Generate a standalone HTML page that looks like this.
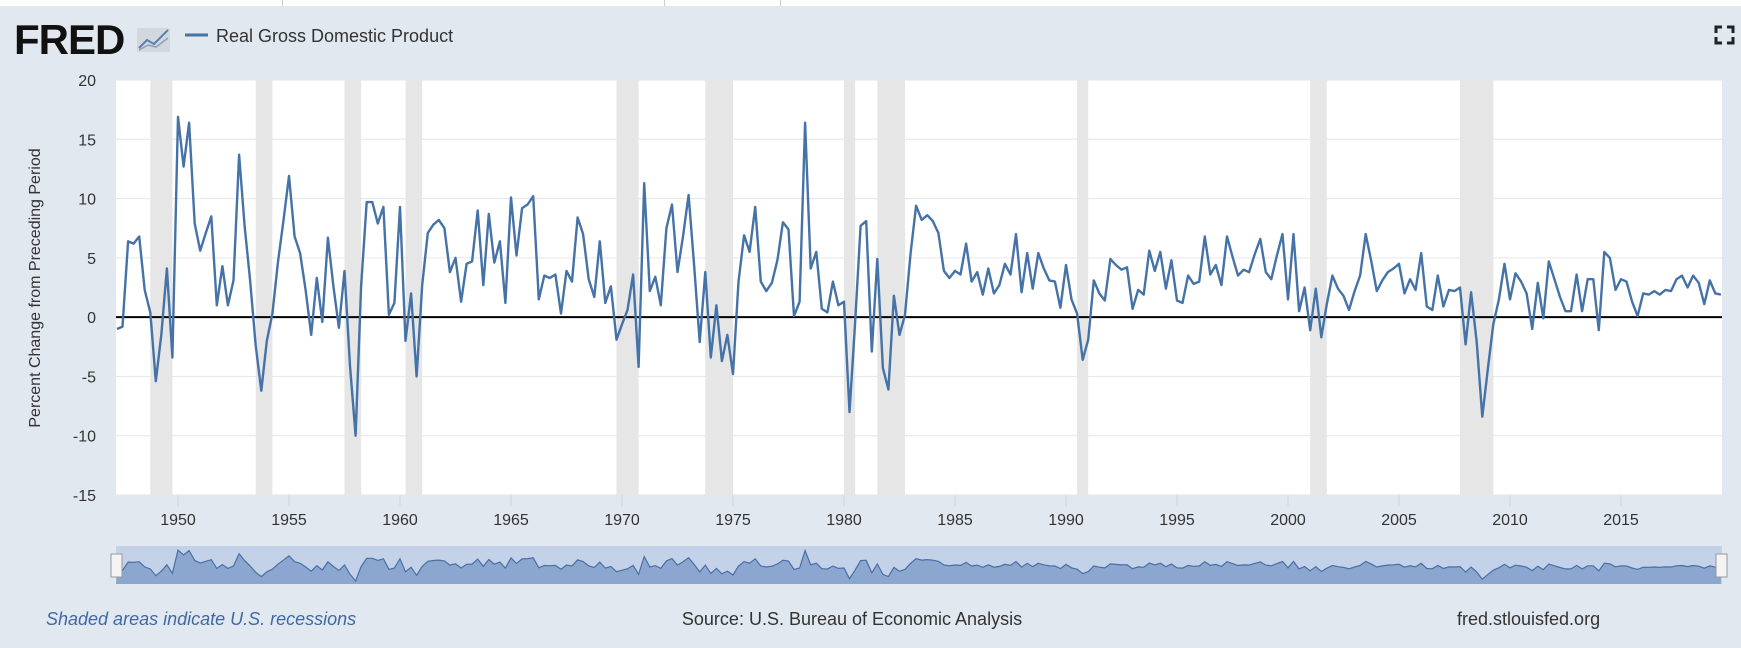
<!DOCTYPE html>
<html><head><meta charset="utf-8">
<style>
html,body{margin:0;padding:0;background:#e1e8f0;}
body{width:1741px;height:648px;overflow:hidden;position:relative;font-family:"Liberation Sans",sans-serif;}
</style></head>
<body>
<div style="position:absolute;left:0;top:0;width:1741px;height:6px;background:#fff;"></div>
<div style="position:absolute;left:282px;top:0;width:1px;height:6px;background:#ccc;"></div>
<div style="position:absolute;left:664px;top:0;width:1px;height:6px;background:#ccc;"></div>
<div style="position:absolute;left:780px;top:0;width:1px;height:6px;background:#ccc;"></div>
<svg id="chart" width="1741" height="648" style="position:absolute;left:0;top:0">
  <text x="14" y="54" font-size="42" font-weight="bold" fill="#111" font-family="Liberation Sans, sans-serif" letter-spacing="-1">FRED</text>
  <g>
    <rect x="137" y="28" width="33" height="24" fill="#d3d8de"/>
    <polyline points="139,48 147,40 154,44 168,30" fill="none" stroke="#5b7fae" stroke-width="2"/>
    <polyline points="139,50 148,45 156,47 168,38" fill="none" stroke="#8aa0bc" stroke-width="1.5"/>
  </g>
  <line x1="185" y1="35" x2="208" y2="35" stroke="#4572a7" stroke-width="3"/>
  <text x="216" y="42" font-size="18" fill="#333">Real Gross Domestic Product</text>
  <g fill="none" stroke="#222" stroke-width="3">
    <path d="M1716,33 V27 H1722"/><path d="M1727,27 H1733 V33"/>
    <path d="M1716,37 V43 H1722"/><path d="M1727,43 H1733 V37"/>
  </g>
  <rect x="116" y="80" width="1606" height="415" fill="#fff"/>
  <g id="rec"></g><g id="grid"></g><g id="yl"></g><g id="xl"></g>
  <line id="zero"/>
  <path id="series" fill="none" stroke="#4572a7" stroke-width="2.4" stroke-linejoin="round"/>
  <text transform="translate(40,288) rotate(-90)" text-anchor="middle" font-size="16" fill="#333">Percent Change from Preceding Period</text>
  <g>
    <rect x="116" y="546" width="1606" height="38" fill="#c3d2e8"/>
    <path id="navArea" fill="#8ba6cf" stroke="none"/>
    <path id="navLine" fill="none" stroke="#4a6fa5" stroke-width="1.2"/>
  </g>
  <rect x="111" y="554" width="11" height="23" fill="#f4f4f4" stroke="#999"/>
  <rect x="1716" y="554" width="11" height="23" fill="#f4f4f4" stroke="#999"/>
  <text x="46" y="625" font-size="18" font-style="italic" fill="#3e68a6">Shaded areas indicate U.S. recessions</text>
  <text x="852" y="625" font-size="18" fill="#333" text-anchor="middle">Source: U.S. Bureau of Economic Analysis</text>
  <text x="1457" y="625" font-size="18" fill="#333">fred.stlouisfed.org</text>
</svg>
<script>
const startYear = 1947.25;
const gdpValues = [
-1.0,-0.8,6.4,
6.2,6.8,2.3,0.4,
-5.4,-1.5,4.1,-3.4,
16.9,12.7,16.4,7.9,
5.6,7.1,8.5,1.0,
4.3,1.0,3.1,13.7,
7.7,3.1,-2.4,-6.2,
-2.0,0.3,4.6,8.1,
11.9,6.8,5.4,2.3,
-1.5,3.3,-0.4,6.7,
2.6,-0.9,3.9,-4.1,
-10.0,2.6,9.7,9.7,
7.9,9.3,0.2,1.2,
9.3,-2.0,2.0,-5.0,
2.7,7.1,7.8,8.2,
7.5,3.8,5.0,1.3,
4.5,4.7,9.0,2.7,
8.7,4.6,6.4,1.2,
10.1,5.2,9.2,9.5,
10.2,1.5,3.5,3.3,
3.6,0.3,3.9,3.0,
8.4,7.0,3.2,1.7,
6.4,1.2,2.6,-1.9,
-0.6,0.6,3.6,-4.2,
11.3,2.2,3.4,1.0,
7.5,9.5,3.8,6.8,
10.3,4.4,-2.1,3.8,
-3.4,1.0,-3.7,-1.5,
-4.8,3.0,6.9,5.5,
9.3,3.0,2.2,2.9,
4.8,8.0,7.4,0.1,
1.3,16.4,4.1,5.5,
0.7,0.4,3.0,1.0,
1.3,-8.0,-0.5,7.7,
8.1,-2.9,4.9,-4.3,
-6.1,1.8,-1.5,0.2,
5.4,9.4,8.2,8.6,
8.1,7.1,3.9,3.3,
3.9,3.6,6.2,3.0,
3.8,1.9,4.1,2.0,
2.7,4.5,3.6,7.0,
2.1,5.4,2.4,5.4,
4.1,3.1,3.0,0.8,
4.4,1.5,0.3,-3.6,
-1.9,3.1,2.0,1.4,
4.9,4.4,4.0,4.2,
0.7,2.3,1.9,5.6,
3.9,5.5,2.4,4.8,
1.4,1.2,3.5,2.8,
3.0,6.8,3.6,4.4,
2.7,6.8,5.1,3.5,
4.0,3.8,5.3,6.6,
3.8,3.2,5.2,7.0,
1.5,7.0,0.5,2.5,
-1.1,2.4,-1.7,1.1,
3.5,2.4,1.8,0.6,
2.2,3.5,7.0,4.7,
2.2,3.1,3.8,4.1,
4.5,2.0,3.2,2.3,
5.4,0.9,0.6,3.5,
0.9,2.3,2.2,2.5,
-2.3,2.1,-2.1,-8.4,
-4.4,-0.6,1.5,4.5,
1.5,3.7,3.0,2.0,
-1.0,2.9,-0.1,4.7,
3.2,1.7,0.5,0.5,
3.6,0.5,3.2,3.2,
-1.1,5.5,5.0,2.3,
3.2,3.0,1.3,0.1,
2.0,1.9,2.2,1.9,
2.3,2.2,3.2,3.5,
2.5,3.5,2.9,1.1,
3.1,2.0,1.9
];
const recStarts = [1948.75,1953.5,1957.5,1960.25,1969.75,1973.75,1980.0,1981.5,1990.5,2001.0,2007.75];
const recEnds   = [1949.75,1954.25,1958.25,1961.0,1970.75,1975.0,1980.5,1982.75,1991.0,2001.75,2009.25];
const yTicks = [20,15,10,5,0,-5,-10,-15];
const xTicks = [1950,1955,1960,1965,1970,1975,1980,1985,1990,1995,2000,2005,2010,2015];

const NS='http://www.w3.org/2000/svg';
const L=116,R=1722,T=80,B=495;
const xs = y => 178 + (y-1950)*22.2;
const ys = v => T + (20-v)*(B-T)/35;
const nys = v => 569.5 - v*1.15;
function mk(tag, attrs, parent){const e=document.createElementNS(NS,tag);for(const k in attrs)e.setAttribute(k,attrs[k]);parent.appendChild(e);return e;}

const rec=document.getElementById('rec');
recStarts.forEach((s,i)=>{
  const r=mk('rect',{x:xs(s),y:T,width:xs(recEnds[i])-xs(s),height:B-T,fill:'#e6e6e6'},rec);
  
  
});
const grid=document.getElementById('grid'), yl=document.getElementById('yl'), xl=document.getElementById('xl');
yTicks.forEach(v=>{
  const g=mk('line',{x1:L,x2:R,y1:ys(v),y2:ys(v),stroke:'#e6e6e6','stroke-width':1},grid);
  
  
  const t=mk('text',{x:96,y:ys(v)+6,'text-anchor':'end','font-size':16,fill:'#333'},yl);
  t.textContent=v;
  
  
});
xTicks.forEach(y=>{
  const tk=mk('line',{x1:xs(y),x2:xs(y),y1:B,y2:B+11,stroke:'#ccd6eb'},xl);
  
  
  const t=mk('text',{x:xs(y),y:525,'text-anchor':'middle','font-size':16,fill:'#333'},xl);
  t.textContent=y;
  
  
});
const z=document.getElementById('zero');
z.setAttribute('x1',L);z.setAttribute('x2',R);z.setAttribute('y1',ys(0));z.setAttribute('y2',ys(0));
z.setAttribute('stroke','#000');z.setAttribute('stroke-width','2');

let d='',nd='';
gdpValues.forEach((v,i)=>{
  const x=Math.min(R,Math.max(L,xs(startYear+i*0.25)));
  d+=(i?'L':'M')+x.toFixed(1)+','+ys(v).toFixed(1);
  nd+=(i?'L':'M')+x.toFixed(1)+','+nys(v).toFixed(1);
});
document.getElementById('series').setAttribute('d',d);
document.getElementById('navLine').setAttribute('d',nd);
const lastX=Math.min(R,xs(startYear+(gdpValues.length-1)*0.25));
document.getElementById('navArea').setAttribute('d',nd+'L'+lastX+',584L'+L+',584Z');
</script>
</body></html>
